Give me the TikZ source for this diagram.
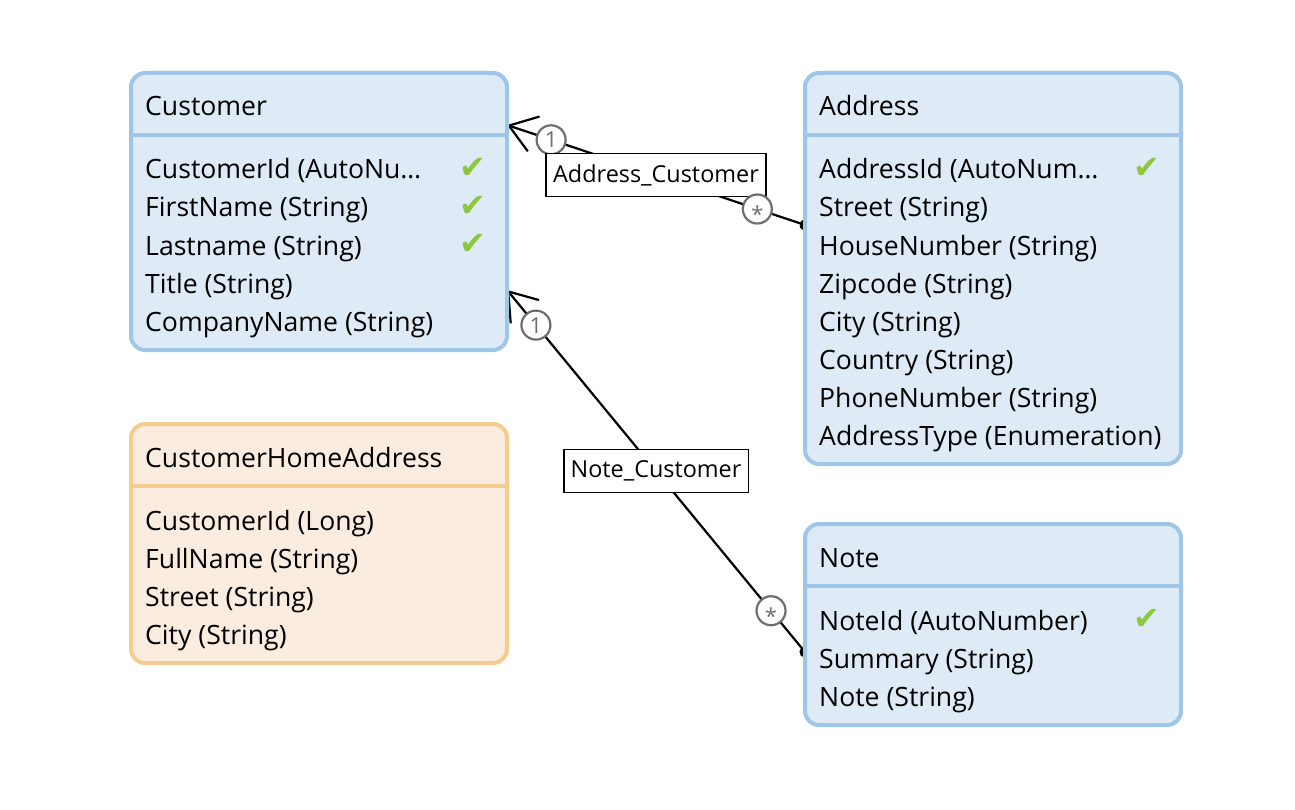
\documentclass[tikz,border=0pt]{standalone}
\usepackage{fontspec}
\setmainfont{Open Sans}
\newfontfamily\symfont{DejaVu Sans}
\usetikzlibrary{positioning,arrows.meta}
\definecolor{entityfill}{HTML}{DEEBF7}
\definecolor{entityline}{HTML}{9DC6E9}
\definecolor{viewfill}{HTML}{FAEDDF}
\definecolor{viewline}{HTML}{F3CC8F}
\definecolor{keygreen}{HTML}{8DC63F}
\definecolor{multgray}{HTML}{6E6E6E}
\pgfdeclarelayer{back}
\pgfsetlayers{back,main}
\tikzstyle{entity}=[rectangle, rounded corners=14pt, draw=entityline, fill=entityfill, line width=4pt, minimum width=376pt, anchor=north west, inner sep=0pt, outer sep=0pt]
\tikzstyle{view}=[entity, draw=viewline, fill=viewfill]
\tikzstyle{field}=[anchor=base west, inner sep=0pt, font=\fontsize{26.6}{30}\selectfont]
\tikzstyle{key}=[inner sep=0pt, text=keygreen, font=\symfont\fontsize{32}{34}\selectfont]

\begin{document}
\begin{tikzpicture}[
        x=1pt, y=-1pt,
        assoc/.style={draw=black, line width=2.2pt, {Straight Barb[angle=70:32pt]}-{Circle[length=11pt]}, shorten >=-5.5pt},
        mult/.style={circle, draw=multgray, line width=2.2pt, fill=white, text=multgray, minimum size=29pt, inner sep=0pt, text height=16pt, text depth=0pt, font=\fontsize{22}{22}\selectfont},
        relation/.style={rectangle, draw=black, line width=1.8pt, fill=white, inner xsep=7pt, inner ysep=0pt, minimum height=43pt, font=\fontsize{23.4}{26}\selectfont},
      ]
      \useasboundingbox (0,0) rectangle (1295,810);
      \node (Customer) [entity, minimum height=277pt] at (131,73) {};
      \node (Address) [entity, minimum height=391pt] at (805,73) {};
      \node (CustomerHomeAddress) [view, minimum height=239pt] at (131,424) {};
      \node (Note) [entity, minimum height=201pt] at (805,524) {};
      \foreach \e/\c in {Customer/entityline, Address/entityline, CustomerHomeAddress/viewline, Note/entityline}
        {
          \draw [draw=\c, line width=4pt] ([yshift=-62pt]\e.north west) -- ([yshift=-62pt]\e.north east);
          \node (\e Title) [field] at ([xshift=14pt, yshift=-43pt]\e.north west) {\e};
        }
      \foreach \f [count=\i] in {CustomerId (AutoNu…, FirstName (String), Lastname (String), Title (String), CompanyName (String)}
        \node (Customer-\i) [field] at ([xshift=14pt, yshift={-106pt-38pt*(\i-1)}]Customer.north west) {\f};
      \foreach \f [count=\i] in {AddressId (AutoNum…, Street (String), HouseNumber (String), Zipcode (String), City (String), Country (String), PhoneNumber (String), AddressType (Enumeration)}
        \node (Address-\i) [field] at ([xshift=14pt, yshift={-106pt-38pt*(\i-1)}]Address.north west) {\f};
      \foreach \f [count=\i] in {CustomerId (Long), FullName (String), Street (String), City (String)}
        \node (CustomerHomeAddress-\i) [field] at ([xshift=14pt, yshift={-106pt-38pt*(\i-1)}]CustomerHomeAddress.north west) {\f};
      \foreach \f [count=\i] in {NoteId (AutoNumber), Summary (String), Note (String)}
        \node (Note-\i) [field] at ([xshift=14pt, yshift={-106pt-38pt*(\i-1)}]Note.north west) {\f};
      \foreach \i in {1,2,3}
        \node (CustomerKey\i) [key] at ([xshift=342pt, yshift={-95pt-38pt*(\i-1)}]Customer.north west) {✔};
      \node (AddressKey1) [key] at ([xshift=342pt, yshift=-95pt]Address.north west) {✔};
      \node (NoteKey1) [key] at ([xshift=342pt, yshift=-95pt]Note.north west) {✔};
      \coordinate (CustomerAddressEnd) at ([yshift=86.5pt]Customer.east);
      \coordinate (AddressEnd) at ([yshift=43.5pt]Address.west);
      \coordinate (CustomerNoteEnd) at ([yshift=-78.5pt]Customer.east);
      \coordinate (NoteEnd) at ([yshift=-27.5pt]Note.west);
      \begin{pgfonlayer}{back}
        \draw [assoc] (CustomerAddressEnd) to
              node (AddressOne) [mult, pos=.148] {1}
              node (AddressCustomer) [relation] {Address\_Customer}
              node (AddressMany) [mult, pos=.84] {\raisebox{-5.5pt}{*}} (AddressEnd);
        \draw [assoc] (CustomerNoteEnd) to
              node (NoteOne) [mult, pos=.097] {1}
              node (NoteCustomer) [relation] {Note\_Customer}
              node (NoteMany) [mult, pos=.886] {\raisebox{-5.5pt}{*}} (NoteEnd);
      \end{pgfonlayer}
    \end{tikzpicture}
\end{document}
